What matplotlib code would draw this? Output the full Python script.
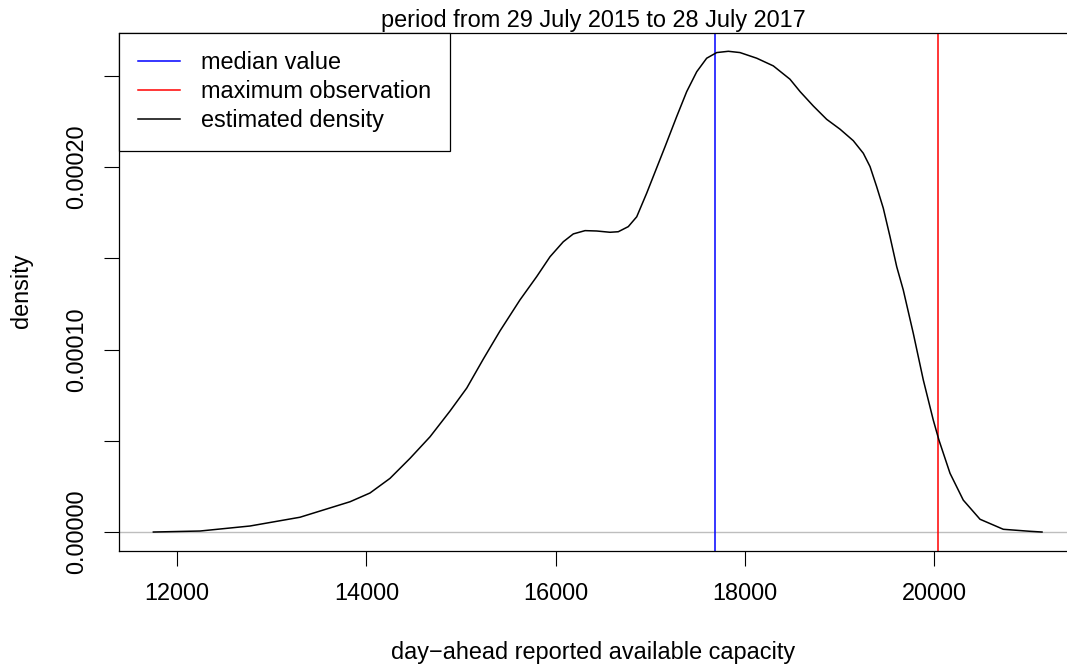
import matplotlib
matplotlib.use("Agg")
import matplotlib.pyplot as plt
from matplotlib.lines import Line2D

plt.rcParams['font.family'] = ['Liberation Sans', 'DejaVu Sans']

# density curve
cap = [11750, 12243, 12771, 13299, 13828, 14039, 14250, 14462, 14673, 14884,
       15061, 15236, 15412, 15623, 15800, 15941, 16081, 16187, 16311, 16434,
       16575, 16662, 16768, 16857, 16962, 17156, 17279, 17385, 17491, 17596,
       17702, 17825, 17948, 18125, 18300, 18476, 18583, 18723, 18864, 19005,
       19145, 19251, 19322, 19392, 19462, 19533, 19604, 19673, 19779, 19885,
       19990, 20050, 20167, 20307, 20484, 20730, 21012, 21139]
dens = [0.0, 0.00000055, 0.0000033, 0.0000081, 0.0000166, 0.0000214, 0.0000294,
        0.0000404, 0.0000522, 0.0000663, 0.0000789, 0.0000948, 0.0001102,
        0.0001272, 0.0001400, 0.0001509, 0.0001591, 0.0001634, 0.0001652,
        0.0001650, 0.0001643, 0.0001646, 0.0001674, 0.0001728, 0.0001857,
        0.0002112, 0.0002277, 0.0002414, 0.0002523, 0.0002597, 0.0002628,
        0.0002635, 0.0002628, 0.0002597, 0.0002555, 0.0002482, 0.0002414,
        0.0002335, 0.0002262, 0.0002208, 0.0002145, 0.0002076, 0.0002003,
        0.0001893, 0.0001775, 0.0001619, 0.0001454, 0.0001327, 0.0001089,
        0.0000833, 0.0000614, 0.0000504, 0.0000322, 0.0000175, 0.0000070,
        0.0000015, 0.0000004, 0.0]
median_value = 17685
max_observation = 20043

xticks = [12000, 14000, 16000, 18000, 20000]
yticks = [0.0, 0.00005, 0.0001, 0.00015, 0.0002, 0.00025]
ytick_labels = ["0.00000", "", "0.00010", "", "0.00020", ""]

W, H = 1067, 666
fig = plt.figure(figsize=(W / 100, H / 100), dpi=100)
L, R, T, B = 119, 1067, 32.5, 551
ax = fig.add_axes([L / W, 1 - B / H, (R - L) / W, (B - T) / H])

fs = 16.9
ax.axhline(0, color='#BEBEBE', lw=1.0, zorder=1)
ax.plot(cap, dens, color='black', lw=1.1, zorder=3, solid_joinstyle='round')
ax.axvline(median_value, color='blue', lw=1.1, zorder=2)
ax.axvline(max_observation, color='red', lw=1.1, zorder=2)

ax.set_xlim(11387, 21403)
ax.set_ylim(-0.0000104, 0.0002738)
ax.set_xticks(xticks)
ax.set_xticklabels([str(v) for v in xticks])
ax.set_yticks(yticks)
ax.set_yticklabels(ytick_labels, rotation=90, va='center')
ax.tick_params(axis='both', length=10.5, width=0.8, labelsize=fs, pad=12)
for s in ax.spines.values():
    s.set_linewidth(0.9)
ax.spines['right'].set_visible(False)

handles = [Line2D([], [], color='blue', lw=1.1),
           Line2D([], [], color='red', lw=1.1),
           Line2D([], [], color='black', lw=1.1)]
labels = ['median value', 'maximum observation', 'estimated density']
leg = ax.legend(handles, labels, loc='upper left', bbox_to_anchor=(0, 1),
                borderaxespad=0, fancybox=False, edgecolor='black',
                framealpha=1, fontsize=fs, handlelength=1.8,
                handletextpad=0.9, labelspacing=0.25, borderpad=0.8)
leg.get_frame().set_linewidth(0.9)

fig.text(0.5 * (L + R) / W, 1 - 27 / H, 'period from 29 July 2015 to 28 July 2017',
         ha='center', va='baseline', fontsize=fs)
fig.text(0.5 * (L + R) / W, 1 - 652 / H, 'day\u2212ahead reported available capacity',
         ha='center', va='center', fontsize=fs)
fig.text(22 / W, 1 - 291 / H, 'density', ha='center', va='center',
         rotation=90, fontsize=fs)

fig.savefig('out.png', dpi=100)
